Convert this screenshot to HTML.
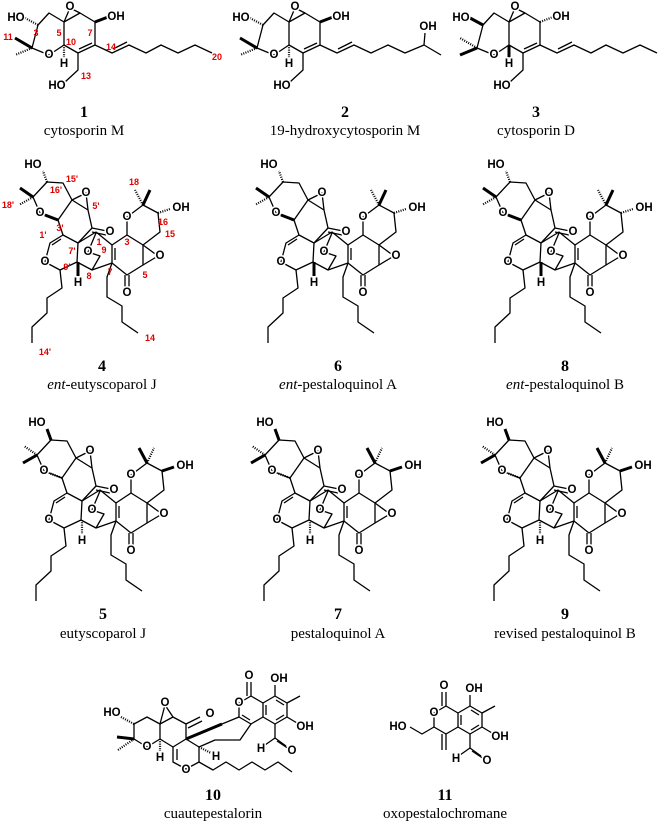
<!DOCTYPE html>
<html><head><meta charset="utf-8"><style>
html,body{margin:0;padding:0;background:#fff}
svg{display:block}
.b{fill:none;stroke:#000;stroke-width:1.3;stroke-linejoin:round}
.w{stroke:#000;stroke-width:3}
.h{stroke:#000;stroke-width:2.2;stroke-dasharray:1 1.3}
.a{font-family:"Liberation Sans",sans-serif;font-weight:bold;font-size:11.5px;text-anchor:middle;dominant-baseline:central;fill:#000;stroke:#fff;stroke-width:3;paint-order:stroke}
.r{font-family:"Liberation Sans",sans-serif;font-weight:bold;font-size:9px;text-anchor:middle;dominant-baseline:central;fill:#e00000}
.n{font-family:"Liberation Serif",serif;font-weight:bold;font-size:16px;text-anchor:middle;fill:#000}
.t{font-family:"Liberation Serif",serif;font-size:15px;text-anchor:middle;fill:#000}
</style></head><body>
<svg width="669" height="825" viewBox="0 0 669 825" xmlns="http://www.w3.org/2000/svg">

<!-- Compound 1 -->
<g>
<g class="b">
<polyline points="38,25 49,13 64,22 64,45 49,55 32,48 38,25"/>
<polyline points="64,22 80,13 95,22 95,45 78,53 64,45"/>
<line x1="92" y1="43" x2="79" y2="49"/>
<polyline points="64,22 70,8 80,13"/>
<polyline points="78,53 78,70 65,82"/>
<polyline points="95,45 112,53 129,45 146,53 161,45 178,53 195,45 212,53"/>
<line x1="113" y1="49" x2="127" y2="42"/>
</g>
<line class="h" x1="38" y1="25" x2="25" y2="18"/>
<line class="w" x1="32" y1="48" x2="15" y2="38"/>
<line class="h" x1="32" y1="48" x2="15" y2="55"/>
<line class="w" x1="95" y1="22" x2="108" y2="17"/>
<line class="h" x1="64" y1="45" x2="64" y2="58"/>
<text class="a" x="16" y="18">HO</text><text class="a" x="70" y="7">O</text><text class="a" x="116" y="17">OH</text>
<text class="a" x="49" y="55">O</text><text class="a" x="64" y="64">H</text><text class="a" x="57" y="86">HO</text>
<text class="r" x="8" y="37">11</text><text class="r" x="36" y="33">3</text><text class="r" x="59" y="33">5</text><text class="r" x="90" y="33">7</text><text class="r" x="71" y="42">10</text><text class="r" x="111" y="47">14</text><text class="r" x="86" y="76">13</text><text class="r" x="217" y="57">20</text>
</g>
<text class="n" x="84" y="117">1</text><text class="t" x="84" y="135">cytosporin M</text>

<!-- Compound 2 -->
<g transform="translate(225,0)">
<g class="b">
<polyline points="38,25 49,13 64,22 64,45 49,55 32,48 38,25"/>
<polyline points="64,22 80,13 95,22 95,45 78,53 64,45"/>
<line x1="92" y1="43" x2="79" y2="49"/>
<polyline points="64,22 70,8 80,13"/>
<polyline points="78,53 78,70 65,82"/>
<polyline points="95,45 112,53 129,45 146,53 163,45 180,53 199,45 216,55"/>
<line x1="113" y1="49" x2="127" y2="42"/>
<line x1="199" y1="45" x2="200" y2="33"/>
</g>
<line class="h" x1="38" y1="25" x2="25" y2="18"/>
<line class="w" x1="32" y1="48" x2="15" y2="38"/>
<line class="h" x1="32" y1="48" x2="15" y2="55"/>
<line class="w" x1="95" y1="22" x2="108" y2="17"/>
<line class="h" x1="64" y1="45" x2="64" y2="58"/>
<text class="a" x="16" y="18">HO</text><text class="a" x="70" y="7">O</text><text class="a" x="116" y="17">OH</text>
<text class="a" x="49" y="55">O</text><text class="a" x="64" y="64">H</text><text class="a" x="57" y="86">HO</text>
<text class="a" x="203" y="27">OH</text>
</g>
<text class="n" x="345" y="117">2</text><text class="t" x="345" y="135">19-hydroxycytosporin M</text>

<!-- Compound 3 -->
<g transform="translate(445,0)">
<g class="b">
<polyline points="38,25 49,13 64,22 64,45 49,55 32,48 38,25"/>
<polyline points="64,22 80,13 95,22 95,45 78,53 64,45"/>
<line x1="92" y1="43" x2="79" y2="49"/>
<polyline points="64,22 70,8 80,13"/>
<polyline points="78,53 78,70 65,82"/>
<polyline points="95,45 112,53 129,45 146,53 161,45 178,53 195,45 212,53"/>
<line x1="113" y1="49" x2="127" y2="42"/>
</g>
<line class="w" x1="38" y1="25" x2="25" y2="18"/>
<line class="w" x1="32" y1="48" x2="15" y2="55"/>
<line class="h" x1="32" y1="48" x2="15" y2="38"/>
<line class="h" x1="95" y1="22" x2="108" y2="17"/>
<line class="w" x1="64" y1="45" x2="64" y2="58"/>
<text class="a" x="16" y="18">HO</text><text class="a" x="70" y="7">O</text><text class="a" x="116" y="17">OH</text>
<text class="a" x="49" y="55">O</text><text class="a" x="64" y="64">H</text><text class="a" x="57" y="86">HO</text>
</g>
<text class="n" x="536" y="117">3</text><text class="t" x="536" y="135">cytosporin D</text>

<!-- Compound 4 -->
<g>
<g class="b">
<polyline points="40,213 33,197 47,182 63,183 72,200 58,220 40,213"/>
<polyline points="72,200 88,210 92,228 78,243 63,235 58,220"/>
<polyline points="72,200 86,193 88,210"/>
<line x1="92" y1="228" x2="107" y2="231"/><line x1="92" y1="232" x2="106" y2="235"/>
<polyline points="63,235 50,243 45,262 60,270 77,262 78,243"/>
<line x1="61" y1="239" x2="52" y2="245"/>
<polyline points="60,270 62,288 47,298 47,313 32,327 32,343"/>
<polyline points="78,243 96,232 112,245"/>
<polyline points="112,245 127,235 143,245 143,265 127,275 112,263 112,245"/>
<line x1="115" y1="248" x2="115" y2="260"/>
<line x1="125" y1="275" x2="125" y2="287"/><line x1="129" y1="275" x2="129" y2="287"/>
<polyline points="143,245 158,256 143,265"/>
<polyline points="127,235 127,217 143,205 158,213 160,232 143,245"/>
<polyline points="77,262 92,270 112,263"/>
<polyline points="92,270 100,256 88,252 96,233"/>
<polyline points="112,263 107,277 107,297 122,306 122,322 138,333"/>
</g>
<line class="w" x1="143" y1="205" x2="150" y2="190"/>
<line class="h" x1="143" y1="205" x2="135" y2="190"/>
<line class="h" x1="158" y1="213" x2="170" y2="209"/>
<line class="h" x1="47" y1="182" x2="43" y2="171"/>
<line class="w" x1="33" y1="197" x2="20" y2="188"/>
<line class="h" x1="33" y1="197" x2="19" y2="205"/>
<line class="w" x1="78" y1="262" x2="78" y2="276"/>
<line class="w" x1="58" y1="220" x2="45" y2="215"/>
<text class="a" x="33" y="165">HO</text><text class="a" x="40" y="213">O</text><text class="a" x="86" y="193">O</text>
<text class="a" x="110" y="232">O</text><text class="a" x="45" y="262">O</text><text class="a" x="78" y="283">H</text>
<text class="a" x="88" y="252">O</text><text class="a" x="127" y="217">O</text><text class="a" x="160" y="256">O</text>
<text class="a" x="127" y="293">O</text><text class="a" x="181" y="208">OH</text>
</g>
<g>
<text class="r" x="56" y="190">16'</text><text class="r" x="72" y="179">15'</text><text class="r" x="8" y="205">18'</text>
<text class="r" x="60" y="228">3'</text><text class="r" x="96" y="206">5'</text><text class="r" x="43" y="235">1'</text>
<text class="r" x="72" y="251">7'</text><text class="r" x="67" y="267">9'</text><text class="r" x="89" y="276">8</text>
<text class="r" x="99" y="242">1</text><text class="r" x="104" y="250">9</text><text class="r" x="110" y="272">7</text>
<text class="r" x="127" y="242">3</text><text class="r" x="145" y="275">5</text><text class="r" x="170" y="234">15</text>
<text class="r" x="163" y="222">16</text><text class="r" x="134" y="182">18</text><text class="r" x="45" y="352">14'</text>
<text class="r" x="150" y="338">14</text>
</g>
<text class="n" x="102" y="371">4</text><text class="t" x="102" y="389"><tspan font-style="italic">ent</tspan>-eutyscoparol J</text>

<g transform="translate(236,0)">
<g class="b">
<polyline points="40,213 33,197 47,182 63,183 72,200 58,220 40,213"/>
<polyline points="72,200 88,210 92,228 78,243 63,235 58,220"/>
<polyline points="72,200 86,193 88,210"/>
<line x1="92" y1="228" x2="107" y2="231"/><line x1="92" y1="232" x2="106" y2="235"/>
<polyline points="63,235 50,243 45,262 60,270 77,262 78,243"/>
<line x1="61" y1="239" x2="52" y2="245"/>
<polyline points="60,270 62,288 47,298 47,313 32,327 32,343"/>
<polyline points="78,243 96,232 112,245"/>
<polyline points="112,245 127,235 143,245 143,265 127,275 112,263 112,245"/>
<line x1="115" y1="248" x2="115" y2="260"/>
<line x1="125" y1="275" x2="125" y2="287"/><line x1="129" y1="275" x2="129" y2="287"/>
<polyline points="143,245 158,256 143,265"/>
<polyline points="127,235 127,217 143,205 158,213 160,232 143,245"/>
<polyline points="77,262 92,270 112,263"/>
<polyline points="92,270 100,256 88,252 96,233"/>
<polyline points="112,263 107,277 107,297 122,306 122,322 138,333"/>
</g>
<line class="w" x1="143" y1="205" x2="150" y2="190"/><line class="h" x1="143" y1="205" x2="135" y2="190"/>
<line class="h" x1="158" y1="213" x2="170" y2="209"/><line class="h" x1="47" y1="182" x2="43" y2="171"/>
<line class="w" x1="33" y1="197" x2="20" y2="188"/><line class="h" x1="33" y1="197" x2="19" y2="205"/>
<line class="w" x1="78" y1="262" x2="78" y2="276"/><line class="w" x1="58" y1="220" x2="45" y2="215"/>
<text class="a" x="33" y="165">HO</text><text class="a" x="40" y="213">O</text><text class="a" x="86" y="193">O</text>
<text class="a" x="110" y="232">O</text><text class="a" x="45" y="262">O</text><text class="a" x="78" y="283">H</text>
<text class="a" x="88" y="252">O</text><text class="a" x="127" y="217">O</text><text class="a" x="160" y="256">O</text>
<text class="a" x="127" y="293">O</text><text class="a" x="181" y="208">OH</text>
</g>
<text class="n" x="338" y="371">6</text><text class="t" x="338" y="389"><tspan font-style="italic">ent</tspan>-pestaloquinol A</text>

<g transform="translate(463,0)">
<g class="b">
<polyline points="40,213 33,197 47,182 63,183 72,200 58,220 40,213"/>
<polyline points="72,200 88,210 92,228 78,243 63,235 58,220"/>
<polyline points="72,200 86,193 88,210"/>
<line x1="92" y1="228" x2="107" y2="231"/><line x1="92" y1="232" x2="106" y2="235"/>
<polyline points="63,235 50,243 45,262 60,270 77,262 78,243"/>
<line x1="61" y1="239" x2="52" y2="245"/>
<polyline points="60,270 62,288 47,298 47,313 32,327 32,343"/>
<polyline points="78,243 96,232 112,245"/>
<polyline points="112,245 127,235 143,245 143,265 127,275 112,263 112,245"/>
<line x1="115" y1="248" x2="115" y2="260"/>
<line x1="125" y1="275" x2="125" y2="287"/><line x1="129" y1="275" x2="129" y2="287"/>
<polyline points="143,245 158,256 143,265"/>
<polyline points="127,235 127,217 143,205 158,213 160,232 143,245"/>
<polyline points="77,262 92,270 112,263"/>
<polyline points="92,270 100,256 88,252 96,233"/>
<polyline points="112,263 107,277 107,297 122,306 122,322 138,333"/>
</g>
<line class="w" x1="143" y1="205" x2="150" y2="190"/><line class="h" x1="143" y1="205" x2="135" y2="190"/>
<line class="h" x1="158" y1="213" x2="170" y2="209"/><line class="h" x1="47" y1="182" x2="43" y2="171"/>
<line class="w" x1="33" y1="197" x2="20" y2="188"/><line class="h" x1="33" y1="197" x2="19" y2="205"/>
<line class="w" x1="78" y1="262" x2="78" y2="276"/><line class="w" x1="58" y1="220" x2="45" y2="215"/>
<text class="a" x="33" y="165">HO</text><text class="a" x="40" y="213">O</text><text class="a" x="86" y="193">O</text>
<text class="a" x="110" y="232">O</text><text class="a" x="45" y="262">O</text><text class="a" x="78" y="283">H</text>
<text class="a" x="88" y="252">O</text><text class="a" x="127" y="217">O</text><text class="a" x="160" y="256">O</text>
<text class="a" x="127" y="293">O</text><text class="a" x="181" y="208">OH</text>
</g>
<text class="n" x="565" y="371">8</text><text class="t" x="565" y="389"><tspan font-style="italic">ent</tspan>-pestaloquinol B</text>

<!-- Row 3 -->
<g transform="translate(4,258)">
<g class="b">
<polyline points="40,213 33,197 47,182 63,183 72,200 58,220 40,213"/>
<polyline points="72,200 88,210 92,228 78,243 63,235 58,220"/>
<polyline points="72,200 86,193 88,210"/>
<line x1="92" y1="228" x2="107" y2="231"/><line x1="92" y1="232" x2="106" y2="235"/>
<polyline points="63,235 50,243 45,262 60,270 77,262 78,243"/>
<line x1="61" y1="239" x2="52" y2="245"/>
<polyline points="60,270 62,288 47,298 47,313 32,327 32,343"/>
<polyline points="78,243 96,232 112,245"/>
<polyline points="112,245 127,235 143,245 143,265 127,275 112,263 112,245"/>
<line x1="115" y1="248" x2="115" y2="260"/>
<line x1="125" y1="275" x2="125" y2="287"/><line x1="129" y1="275" x2="129" y2="287"/>
<polyline points="143,245 158,256 143,265"/>
<polyline points="127,235 127,217 143,205 158,213 160,232 143,245"/>
<polyline points="77,262 92,270 112,263"/>
<polyline points="92,270 100,256 88,252 96,233"/>
<polyline points="112,263 107,277 107,297 122,306 122,322 138,333"/>
</g>
<line class="w" x1="143" y1="205" x2="135" y2="190"/><line class="h" x1="143" y1="205" x2="150" y2="190"/>
<line class="w" x1="158" y1="213" x2="170" y2="209"/><line class="w" x1="47" y1="182" x2="43" y2="171"/>
<line class="h" x1="33" y1="197" x2="20" y2="188"/><line class="w" x1="33" y1="197" x2="19" y2="205"/>
<line class="h" x1="78" y1="262" x2="78" y2="276"/><line class="h" x1="58" y1="220" x2="45" y2="215"/>
<text class="a" x="33" y="165">HO</text><text class="a" x="40" y="213">O</text><text class="a" x="86" y="193">O</text>
<text class="a" x="110" y="232">O</text><text class="a" x="45" y="262">O</text><text class="a" x="78" y="283">H</text>
<text class="a" x="88" y="252">O</text><text class="a" x="127" y="217">O</text><text class="a" x="160" y="256">O</text>
<text class="a" x="127" y="293">O</text><text class="a" x="181" y="208">OH</text>
</g>
<text class="n" x="103" y="619">5</text><text class="t" x="103" y="638">eutyscoparol J</text>

<g transform="translate(232,258)">
<g class="b">
<polyline points="40,213 33,197 47,182 63,183 72,200 58,220 40,213"/>
<polyline points="72,200 88,210 92,228 78,243 63,235 58,220"/>
<polyline points="72,200 86,193 88,210"/>
<line x1="92" y1="228" x2="107" y2="231"/><line x1="92" y1="232" x2="106" y2="235"/>
<polyline points="63,235 50,243 45,262 60,270 77,262 78,243"/>
<line x1="61" y1="239" x2="52" y2="245"/>
<polyline points="60,270 62,288 47,298 47,313 32,327 32,343"/>
<polyline points="78,243 96,232 112,245"/>
<polyline points="112,245 127,235 143,245 143,265 127,275 112,263 112,245"/>
<line x1="115" y1="248" x2="115" y2="260"/>
<line x1="125" y1="275" x2="125" y2="287"/><line x1="129" y1="275" x2="129" y2="287"/>
<polyline points="143,245 158,256 143,265"/>
<polyline points="127,235 127,217 143,205 158,213 160,232 143,245"/>
<polyline points="77,262 92,270 112,263"/>
<polyline points="92,270 100,256 88,252 96,233"/>
<polyline points="112,263 107,277 107,297 122,306 122,322 138,333"/>
</g>
<line class="w" x1="143" y1="205" x2="135" y2="190"/><line class="h" x1="143" y1="205" x2="150" y2="190"/>
<line class="w" x1="158" y1="213" x2="170" y2="209"/><line class="w" x1="47" y1="182" x2="43" y2="171"/>
<line class="h" x1="33" y1="197" x2="20" y2="188"/><line class="w" x1="33" y1="197" x2="19" y2="205"/>
<line class="h" x1="78" y1="262" x2="78" y2="276"/><line class="h" x1="58" y1="220" x2="45" y2="215"/>
<text class="a" x="33" y="165">HO</text><text class="a" x="40" y="213">O</text><text class="a" x="86" y="193">O</text>
<text class="a" x="110" y="232">O</text><text class="a" x="45" y="262">O</text><text class="a" x="78" y="283">H</text>
<text class="a" x="88" y="252">O</text><text class="a" x="127" y="217">O</text><text class="a" x="160" y="256">O</text>
<text class="a" x="127" y="293">O</text><text class="a" x="181" y="208">OH</text>
</g>
<text class="n" x="338" y="619">7</text><text class="t" x="338" y="638">pestaloquinol A</text>

<g transform="translate(462,258)">
<g class="b">
<polyline points="40,213 33,197 47,182 63,183 72,200 58,220 40,213"/>
<polyline points="72,200 88,210 92,228 78,243 63,235 58,220"/>
<polyline points="72,200 86,193 88,210"/>
<line x1="92" y1="228" x2="107" y2="231"/><line x1="92" y1="232" x2="106" y2="235"/>
<polyline points="63,235 50,243 45,262 60,270 77,262 78,243"/>
<line x1="61" y1="239" x2="52" y2="245"/>
<polyline points="60,270 62,288 47,298 47,313 32,327 32,343"/>
<polyline points="78,243 96,232 112,245"/>
<polyline points="112,245 127,235 143,245 143,265 127,275 112,263 112,245"/>
<line x1="115" y1="248" x2="115" y2="260"/>
<line x1="125" y1="275" x2="125" y2="287"/><line x1="129" y1="275" x2="129" y2="287"/>
<polyline points="143,245 158,256 143,265"/>
<polyline points="127,235 127,217 143,205 158,213 160,232 143,245"/>
<polyline points="77,262 92,270 112,263"/>
<polyline points="92,270 100,256 88,252 96,233"/>
<polyline points="112,263 107,277 107,297 122,306 122,322 138,333"/>
</g>
<line class="w" x1="143" y1="205" x2="135" y2="190"/><line class="h" x1="143" y1="205" x2="150" y2="190"/>
<line class="w" x1="158" y1="213" x2="170" y2="209"/><line class="w" x1="47" y1="182" x2="43" y2="171"/>
<line class="h" x1="33" y1="197" x2="20" y2="188"/><line class="w" x1="33" y1="197" x2="19" y2="205"/>
<line class="h" x1="78" y1="262" x2="78" y2="276"/><line class="h" x1="58" y1="220" x2="45" y2="215"/>
<text class="a" x="33" y="165">HO</text><text class="a" x="40" y="213">O</text><text class="a" x="86" y="193">O</text>
<text class="a" x="110" y="232">O</text><text class="a" x="45" y="262">O</text><text class="a" x="78" y="283">H</text>
<text class="a" x="88" y="252">O</text><text class="a" x="127" y="217">O</text><text class="a" x="160" y="256">O</text>
<text class="a" x="127" y="293">O</text><text class="a" x="181" y="208">OH</text>
</g>
<text class="n" x="565" y="619">9</text><text class="t" x="565" y="638">revised pestaloquinol B</text>

<!-- Compound 10 -->
<g>
<g class="b">
<polyline points="134,724 147,717 160,724 160,739 147,747 134,739 134,724"/>
<polyline points="160,724 173,717 186,724 186,739 173,747 160,739"/>
<polyline points="160,724 165,705 173,717"/>
<line x1="186" y1="724" x2="200" y2="717"/><line x1="188" y1="728" x2="202" y2="721"/>
<polyline points="173,747 173,762 186,769 199,762 199,747 186,739"/>
<line x1="177" y1="749" x2="177" y2="760"/>
<polyline points="199,762 213,770 226,762 239,770 252,762 265,770 278,762 292,772"/>
<polyline points="199,747 215,740 240,740 251,724"/>
<polyline points="222,724 239,717"/>
<polygon points="275,696 287,703 287,717 275,724 263,717 263,703"/>
<line x1="266" y1="705" x2="266" y2="715"/><line x1="276" y1="700" x2="284" y2="705"/><line x1="284" y1="715" x2="276" y2="720"/>
<line x1="275" y1="696" x2="275" y2="685"/>
<line x1="287" y1="703" x2="300" y2="696"/>
<line x1="287" y1="717" x2="297" y2="723"/>
<polyline points="275,724 275,738 286,746"/><line x1="277" y1="741" x2="289" y2="749"/>
<line x1="275" y1="738" x2="265" y2="745"/>
<polyline points="263,703 251,696 239,703 239,717 251,724 263,717"/>
<line x1="251" y1="696" x2="251" y2="682"/><line x1="247" y1="696" x2="247" y2="682"/>
<line x1="242" y1="715" x2="250" y2="720"/>
</g>
<line class="h" x1="134" y1="724" x2="121" y2="717"/>
<line class="w" x1="134" y1="739" x2="117" y2="737"/>
<line class="h" x1="134" y1="739" x2="118" y2="750"/>
<line class="h" x1="160" y1="739" x2="160" y2="751"/>
<line class="w" x1="186" y1="739" x2="222" y2="724"/>
<line class="h" x1="199" y1="747" x2="211" y2="753"/>
<text class="a" x="112" y="713">HO</text><text class="a" x="165" y="703">O</text><text class="a" x="147" y="747">O</text>
<text class="a" x="160" y="758">H</text><text class="a" x="210" y="714">O</text><text class="a" x="186" y="770">O</text>
<text class="a" x="216" y="757">H</text><text class="a" x="239" y="703">O</text><text class="a" x="249" y="676">O</text>
<text class="a" x="279" y="679">OH</text><text class="a" x="305" y="727">OH</text>
<text class="a" x="261" y="749">H</text><text class="a" x="292" y="751">O</text>
</g>
<text class="n" x="213" y="800">10</text><text class="t" x="213" y="818">cuautepestalorin</text>

<!-- Compound 11 -->
<g>
<g class="b">
<polygon points="470,706 482,713 482,727 470,734 458,727 458,713"/>
<line x1="461" y1="715" x2="461" y2="725"/><line x1="471" y1="710" x2="479" y2="715"/><line x1="479" y1="725" x2="471" y2="730"/>
<line x1="470" y1="706" x2="470" y2="695"/>
<line x1="482" y1="713" x2="495" y2="706"/>
<line x1="482" y1="727" x2="492" y2="733"/>
<polyline points="470,734 470,748 481,756"/><line x1="472" y1="751" x2="484" y2="759"/>
<line x1="470" y1="748" x2="460" y2="755"/>
<polyline points="458,713 446,706 434,713 434,727 446,734 458,727"/>
<line x1="446" y1="706" x2="446" y2="692"/><line x1="442" y1="706" x2="442" y2="692"/>
<line x1="446" y1="734" x2="446" y2="750"/><line x1="442" y1="734" x2="442" y2="750"/>
<polyline points="434,727 422,734 410,727"/>
</g>
<text class="a" x="398" y="727">HO</text><text class="a" x="434" y="713">O</text><text class="a" x="444" y="686">O</text>
<text class="a" x="474" y="689">OH</text><text class="a" x="500" y="737">OH</text>
<text class="a" x="456" y="759">H</text><text class="a" x="487" y="761">O</text>
</g>
<text class="n" x="445" y="800">11</text><text class="t" x="445" y="818">oxopestalochromane</text>
</svg>
</body></html>
